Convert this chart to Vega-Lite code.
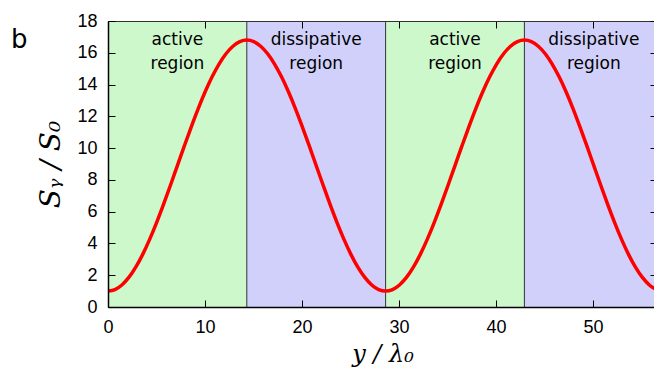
{
  "$schema": "https://vega.github.io/schema/vega-lite/v6.json",
  "width": 549,
  "height": 286,
  "autosize": {"type": "none"},
  "padding": {"left": 108, "top": 21, "right": 0, "bottom": 60},
  "background": "white",
  "config": {
    "view": {"stroke": null},
    "axis": {
      "grid": false,
      "labelFlush": false,
      "labelOverlap": false,
      "domainColor": "#000000",
      "domainWidth": 1.5,
      "tickColor": "#000000",
      "tickWidth": 1,
      "labelFont": "Liberation Sans",
      "labelFontSize": 18,
      "labelColor": "#000000",
      "titleFont": "DejaVu Serif",
      "titleFontStyle": "italic",
      "titleFontWeight": "normal",
      "titleColor": "#000000"
    }
  },
  "title": {
    "text": "b",
    "anchor": "start",
    "frame": "group",
    "dx": -97,
    "dy": 45,
    "fontSize": 26,
    "font": "DejaVu Sans",
    "fontWeight": "normal",
    "color": "#000000"
  },
  "datasets": {
    "regions": [
      {"x0": 0, "x1": 14.31, "mid": 7.155, "type": "active", "label": "active\nregion"},
      {"x0": 14.31, "x1": 28.62, "mid": 21.465, "type": "dissipative", "label": "dissipative\nregion"},
      {"x0": 28.62, "x1": 42.93, "mid": 35.775, "type": "active", "label": "active\nregion"},
      {"x0": 42.93, "x1": 57.24, "mid": 50.085, "type": "dissipative", "label": "dissipative\nregion"}
    ],
    "bounds": [{"x": 14.31}, {"x": 28.62}, {"x": 42.93}],
    "curve": [
      {"x": 0, "s": 1.0}, {"x": 0.716, "s": 1.097}, {"x": 1.431, "s": 1.387}, {"x": 2.147, "s": 1.861},
      {"x": 2.862, "s": 2.509}, {"x": 3.578, "s": 3.314}, {"x": 4.293, "s": 4.256}, {"x": 5.009, "s": 5.313},
      {"x": 5.724, "s": 6.459}, {"x": 6.44, "s": 7.664}, {"x": 7.155, "s": 8.9}, {"x": 7.871, "s": 10.136},
      {"x": 8.586, "s": 11.341}, {"x": 9.302, "s": 12.487}, {"x": 10.017, "s": 13.544}, {"x": 10.733, "s": 14.486},
      {"x": 11.448, "s": 15.291}, {"x": 12.164, "s": 15.939}, {"x": 12.879, "s": 16.413}, {"x": 13.595, "s": 16.703},
      {"x": 14.31, "s": 16.8},
      {"x": 15.026, "s": 16.703}, {"x": 15.741, "s": 16.413}, {"x": 16.457, "s": 15.939}, {"x": 17.172, "s": 15.291},
      {"x": 17.888, "s": 14.486}, {"x": 18.603, "s": 13.544}, {"x": 19.319, "s": 12.487}, {"x": 20.034, "s": 11.341},
      {"x": 20.75, "s": 10.136}, {"x": 21.465, "s": 8.9}, {"x": 22.181, "s": 7.664}, {"x": 22.896, "s": 6.459},
      {"x": 23.612, "s": 5.313}, {"x": 24.327, "s": 4.256}, {"x": 25.043, "s": 3.314}, {"x": 25.758, "s": 2.509},
      {"x": 26.474, "s": 1.861}, {"x": 27.189, "s": 1.387}, {"x": 27.905, "s": 1.097}, {"x": 28.62, "s": 1.0},
      {"x": 29.336, "s": 1.097}, {"x": 30.051, "s": 1.387}, {"x": 30.767, "s": 1.861}, {"x": 31.482, "s": 2.509},
      {"x": 32.198, "s": 3.314}, {"x": 32.913, "s": 4.256}, {"x": 33.629, "s": 5.313}, {"x": 34.344, "s": 6.459},
      {"x": 35.06, "s": 7.664}, {"x": 35.775, "s": 8.9}, {"x": 36.491, "s": 10.136}, {"x": 37.206, "s": 11.341},
      {"x": 37.922, "s": 12.487}, {"x": 38.637, "s": 13.544}, {"x": 39.353, "s": 14.486}, {"x": 40.068, "s": 15.291},
      {"x": 40.784, "s": 15.939}, {"x": 41.499, "s": 16.413}, {"x": 42.215, "s": 16.703}, {"x": 42.93, "s": 16.8},
      {"x": 43.646, "s": 16.703}, {"x": 44.361, "s": 16.413}, {"x": 45.077, "s": 15.939}, {"x": 45.792, "s": 15.291},
      {"x": 46.508, "s": 14.486}, {"x": 47.223, "s": 13.544}, {"x": 47.939, "s": 12.487}, {"x": 48.654, "s": 11.341},
      {"x": 49.37, "s": 10.136}, {"x": 50.085, "s": 8.9}, {"x": 50.801, "s": 7.664}, {"x": 51.516, "s": 6.459},
      {"x": 52.232, "s": 5.313}, {"x": 52.947, "s": 4.256}, {"x": 53.663, "s": 3.314}, {"x": 54.378, "s": 2.509},
      {"x": 55.094, "s": 1.861}, {"x": 55.809, "s": 1.387}, {"x": 56.525, "s": 1.097}
    ]
  },
  "layer": [
    {
      "data": {"name": "regions"},
      "mark": {"type": "rect", "clip": true},
      "encoding": {
        "x": {
          "field": "x0", "type": "quantitative",
          "scale": {"domain": [0, 56.6], "nice": false, "zero": false},
          "axis": {
            "orient": "bottom", "values": [0, 10, 20, 30, 40, 50], "zindex": 1,
            "tickSize": -7, "labelPadding": 18,
            "title": "y / λ₀", "titleFontSize": 24, "titlePadding": 6
          }
        },
        "x2": {"field": "x1"},
        "y": {
          "datum": 0, "type": "quantitative",
          "scale": {"domain": [0, 18], "nice": false},
          "axis": {
            "orient": "left", "values": [0, 2, 4, 6, 8, 10, 12, 14, 16, 18], "zindex": 1,
            "tickSize": -7, "labelPadding": 18,
            "title": "Sᵧ / S₀", "titleFontSize": 28, "titlePadding": 11
          }
        },
        "y2": {"datum": 18},
        "color": {
          "field": "type", "type": "nominal",
          "scale": {"domain": ["active", "dissipative"], "range": ["#ccf8cc", "#d0d0fa"]},
          "legend": null
        }
      }
    },
    {
      "data": {"name": "bounds"},
      "mark": {"type": "rule", "color": "#333333", "strokeWidth": 1},
      "encoding": {
        "x": {
          "field": "x", "type": "quantitative",
          "axis": {
            "orient": "top", "values": [0, 10, 20, 30, 40, 50], "zindex": 1,
            "tickSize": -7, "labels": false, "title": null, "domainColor": "#333333", "domainWidth": 1
          }
        },
        "y": {"datum": 0, "type": "quantitative",
          "axis": {"orient": "right", "values": [0, 2, 4, 6, 8, 10, 12, 14, 16, 18], "zindex": 1, "tickSize": -7, "labels": false, "title": null}},
        "y2": {"datum": 18}
      }
    },
    {
      "data": {"name": "curve"},
      "mark": {"type": "line", "color": "#ff0000", "strokeWidth": 3.5, "clip": true, "interpolate": "monotone"},
      "encoding": {
        "x": {"field": "x", "type": "quantitative", "axis": null},
        "y": {"field": "s", "type": "quantitative", "axis": null}
      }
    },
    {
      "data": {"name": "regions"},
      "mark": {"type": "text", "font": "DejaVu Sans", "fontSize": 17, "lineBreak": "\n", "lineHeight": 24, "baseline": "top", "color": "#000000"},
      "encoding": {
        "x": {"field": "mid", "type": "quantitative", "axis": null},
        "y": {"datum": 17.3, "type": "quantitative", "axis": null},
        "text": {"field": "label"}
      }
    }
  ],
  "resolve": {"axis": {"x": "independent", "y": "independent"}}
}
